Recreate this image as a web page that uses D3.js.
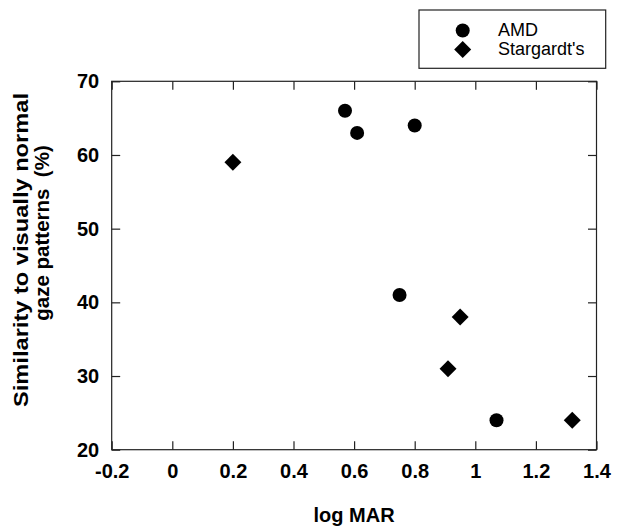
<!DOCTYPE html>
<html><head><meta charset="utf-8">
<script src="https://cdn.jsdelivr.net/npm/d3@7"></script>
<style>body{margin:0;background:#fff}svg{display:block}</style>
</head><body>
<svg id="c" width="619" height="531"></svg>
<script>
const amdX = [0.57, 0.61, 0.80, 0.75, 1.07];
const amdY = [66, 63, 64, 41, 24];
const starX = [0.20, 0.95, 0.91, 1.32];
const starY = [59, 38, 31, 24];
const xTicks = [-0.2, 0, 0.2, 0.4, 0.6, 0.8, 1, 1.2, 1.4];
const yTicks = [20, 30, 40, 50, 60, 70];
const seriesNames = ["AMD", "Stargardt's"];

const svg = d3.select("#c");
const L = 111.7, R = 596.5, T = 81.3, B = 449.7;
const x = d3.scaleLinear().domain([-0.2, 1.4]).range([L, R]);
const y = d3.scaleLinear().domain([20, 70]).range([B, T]);
const font = "Liberation Sans, Arial, Helvetica, sans-serif";
const tk = 8.5;

// frame
svg.append("rect").attr("x", L).attr("y", T).attr("width", R - L).attr("height", B - T)
  .attr("fill", "none").attr("stroke", "#222").attr("stroke-width", 1.2);

const fmt = d => String(d);
const xb = svg.append("g").attr("transform", `translate(0,${B})`)
  .call(d3.axisBottom(x).tickValues(xTicks).tickSizeInner(-tk).tickSizeOuter(0).tickPadding(14).tickFormat(fmt));
const xt = svg.append("g").attr("transform", `translate(0,${T})`)
  .call(d3.axisTop(x).tickValues(xTicks).tickSizeInner(-tk).tickSizeOuter(0).tickFormat(""));
const yl = svg.append("g").attr("transform", `translate(${L},0)`)
  .call(d3.axisLeft(y).tickValues(yTicks).tickSizeInner(-tk).tickSizeOuter(0).tickPadding(12.5).tickFormat(fmt));
const yr = svg.append("g").attr("transform", `translate(${R},0)`)
  .call(d3.axisRight(y).tickValues(yTicks).tickSizeInner(-tk).tickSizeOuter(0).tickFormat(""));
[xb, xt, yl, yr].forEach(g => {
  g.select(".domain").remove();
  g.selectAll(".tick line").attr("stroke", "#222").attr("stroke-width", 1.2);
  g.selectAll("text").attr("font-family", font).attr("font-weight", "bold").attr("font-size", 20).attr("fill", "#000");
});

// markers
const g = svg.append("g");
g.selectAll("circle.amd").data(amdX.map((v, i) => [v, amdY[i]])).join("circle")
  .attr("cx", d => x(d[0])).attr("cy", d => y(d[1])).attr("r", 7).attr("fill", "#000");
const diamond = d3.symbol().type(d3.symbolSquare).size(144);
g.selectAll("path.st").data(starX.map((v, i) => [v, starY[i]])).join("path")
  .attr("d", diamond)
  .attr("transform", d => `translate(${x(d[0])},${y(d[1])}) rotate(45)`).attr("fill", "#000");

// axis labels
svg.append("text").attr("x", (L + R) / 2).attr("y", 521.5).attr("text-anchor", "middle")
  .attr("font-family", font).attr("font-weight", "bold").attr("font-size", 20).text("log MAR");
svg.append("text").attr("transform", "translate(27.5,250) rotate(-90)").attr("text-anchor", "middle")
  .attr("font-family", font).attr("font-weight", "bold").attr("font-size", 20.5)
  .attr("textLength", 314).attr("lengthAdjust", "spacingAndGlyphs").text("Similarity to visually normal");
svg.append("text").attr("transform", "translate(48.5,233) rotate(-90)").attr("text-anchor", "middle")
  .attr("font-family", font).attr("font-weight", "bold").attr("font-size", 20.5)
  .attr("xml:space", "preserve").style("white-space", "pre").text("gaze patterns  (%)");

// legend
const lg = svg.append("g");
lg.append("rect").attr("x", 419).attr("y", 10).attr("width", 186.7).attr("height", 58.3)
  .attr("fill", "#fff").attr("stroke", "#222").attr("stroke-width", 1.2);
lg.append("circle").attr("cx", 462.7).attr("cy", 30.5).attr("r", 7).attr("fill", "#000");
lg.append("path").attr("d", diamond).attr("transform", "translate(462.7,49.5) rotate(45)").attr("fill", "#000");
lg.selectAll("text.lt").data(seriesNames).join("text")
  .attr("x", 498).attr("y", (d, i) => 36 + i * 19)
  .attr("font-family", font).attr("font-size", 18).attr("fill", "#000").text(d => d);
</script>
</body></html>
